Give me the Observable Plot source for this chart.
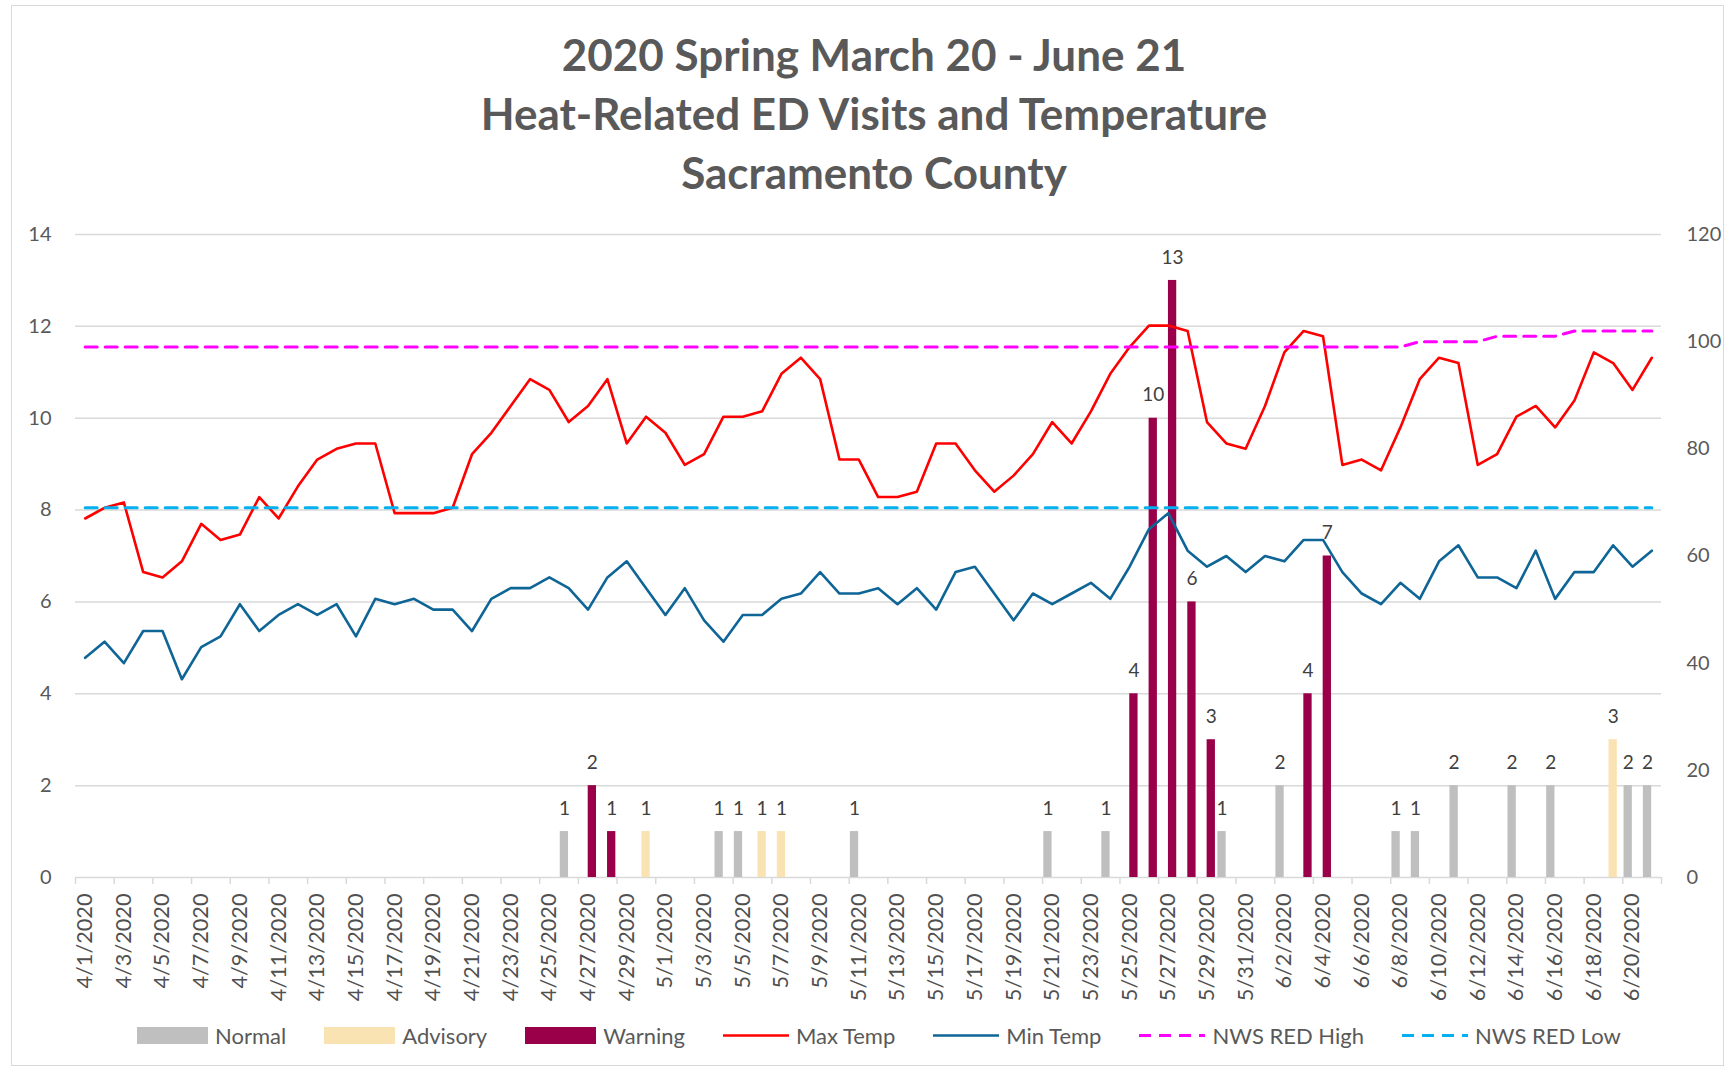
<!DOCTYPE html>
<html><head><meta charset="utf-8">
<script src="https://cdn.jsdelivr.net/npm/d3@7"></script>
<script src="https://cdn.jsdelivr.net/npm/@observablehq/plot@0.6"></script>
<style>
html,body{margin:0;padding:0;background:#fff;}
#wrap{position:relative;width:1736px;height:1070px;overflow:hidden;font-family:Lato,"Open Sans",sans-serif;color:#595959;background:#fff;}
#frame{position:absolute;left:11px;top:5px;width:1713px;height:1061px;border:1.5px solid #d9d9d9;box-sizing:border-box;pointer-events:none;}
#title{height:200px;box-sizing:border-box;padding-top:25px;padding-left:12px;text-align:center;font-weight:700;font-size:44px;line-height:59px;color:#595959;}
#chart{height:800px;}
#legend{display:flex;justify-content:center;align-items:center;height:70px;padding-left:22px;font-size:22px;color:#595959;}
.item{display:flex;align-items:center;margin:0 19px;}
.item svg{margin-right:7px;}
</style></head>
<body>
<div id="wrap">
  <div id="frame"></div>
  <div id="title">2020 Spring March 20 - June 21<br>Heat-Related ED Visits and Temperature<br>Sacramento County</div>
  <div id="chart"></div>
  <div id="legend"></div>
</div>
<script>
// ---- categories ----
const dates = [
  "4/1/2020","4/2/2020","4/3/2020","4/4/2020","4/5/2020","4/6/2020","4/7/2020","4/8/2020","4/9/2020","4/10/2020",
  "4/11/2020","4/12/2020","4/13/2020","4/14/2020","4/15/2020","4/16/2020","4/17/2020","4/18/2020","4/19/2020","4/20/2020",
  "4/21/2020","4/22/2020","4/23/2020","4/24/2020","4/25/2020","4/26/2020","4/27/2020","4/28/2020","4/29/2020","4/30/2020",
  "5/1/2020","5/2/2020","5/3/2020","5/4/2020","5/5/2020","5/6/2020","5/7/2020","5/8/2020","5/9/2020","5/10/2020",
  "5/11/2020","5/12/2020","5/13/2020","5/14/2020","5/15/2020","5/16/2020","5/17/2020","5/18/2020","5/19/2020","5/20/2020",
  "5/21/2020","5/22/2020","5/23/2020","5/24/2020","5/25/2020","5/26/2020","5/27/2020","5/28/2020","5/29/2020","5/30/2020",
  "5/31/2020","6/1/2020","6/2/2020","6/3/2020","6/4/2020","6/5/2020","6/6/2020","6/7/2020","6/8/2020","6/9/2020",
  "6/10/2020","6/11/2020","6/12/2020","6/13/2020","6/14/2020","6/15/2020","6/16/2020","6/17/2020","6/18/2020","6/19/2020",
  "6/20/2020","6/21/2020"
];

// ---- heat-related ED visits (left axis) ----
const normalVisits = [["4/26/2020",1],["5/4/2020",1],["5/5/2020",1],["5/11/2020",1],["5/21/2020",1],["5/24/2020",1],
  ["5/30/2020",1],["6/2/2020",2],["6/8/2020",1],["6/9/2020",1],["6/11/2020",2],["6/14/2020",2],["6/16/2020",2],
  ["6/20/2020",2],["6/21/2020",2]];
const advisoryVisits = [["4/30/2020",1],["5/6/2020",1],["5/7/2020",1],["6/19/2020",3]];
const warningVisits = [["4/27/2020",2],["4/28/2020",1],["5/25/2020",4],["5/26/2020",10],["5/27/2020",13],
  ["5/28/2020",6],["5/29/2020",3],["6/3/2020",4],["6/4/2020",7]];

// ---- temperatures (right axis, °F) ----
const maxTemp = [67,69,70,57,56,59,66,63,64,71,67,73,78,80,81,81,68,68,68,69,79,83,88,93,91,85,88,93,
  81,86,83,77,79,86,86,87,94,97,93,78,78,71,71,72,81,81,76,72,75,79,85,81,87,94,99,103,103,
  102,85,81,80,88,98,102,101,77,78,76,84,93,97,96,77,79,86,88,84,89,98,96,91,97];
const minTemp = [41,44,40,46,46,37,43,45,51,46,49,51,49,51,45,52,51,52,50,50,46,52,54,54,56,54,50,56,
  59,54,49,54,48,44,49,49,52,53,57,53,53,54,51,54,50,57,58,53,48,53,51,53,55,52,58,65,68,
  61,58,60,57,60,59,63,63,57,53,51,55,52,59,62,56,56,54,61,52,57,57,62,58,61];
const nwsRedHigh = [["4/1/2020",99],["6/8/2020",99],["6/9/2020",100],["6/12/2020",100],["6/13/2020",101],
  ["6/16/2020",101],["6/17/2020",102],["6/21/2020",102]];
const nwsRedLow = [["4/1/2020",69],["6/21/2020",69]];

// ---- axis ticks ----
const leftTicks = [0,2,4,6,8,10,12,14];
const rightTicks = [0,20,40,60,80,100,120];

// ---- styling ----
const colors = {Normal:"#BFBFBF", Advisory:"#FAE3B2", Warning:"#990049",
  max:"#FF0000", min:"#0E6596", high:"#FF00FF", low:"#00B0F0"};

const W = 1736, H = 800, mL = 75, mR = 75, mT = 34, mB = 123;
const k = leftTicks[leftTicks.length-1] / rightTicks[rightTicks.length-1];
const bw = (W - mL - mR) / dates.length;
const barW = 8.3, off = 4.3;
const inset = (bw - barW) / 2;

const toRows = (arr) => arr.map(([date, value]) => ({date, value}));
const tempRows = (arr) => dates.map((date, i) => ({date, t: arr[i]}));
const labelDates = dates.filter((d, i) => i % 2 === 0);

const barSeries = [
  {name:"Normal", data: toRows(normalVisits), dx: -off},
  {name:"Advisory", data: toRows(advisoryVisits), dx: 0},
  {name:"Warning", data: toRows(warningVisits), dx: off}
];

const marks = [
  Plot.ruleY(leftTicks, {stroke:"#D9D9D9", strokeWidth:1.5}),
  Plot.axisY(leftTicks, {anchor:"left", tickSize:0, tickPadding:24, fontSize:20, label:null, fill:"#595959"}),
  Plot.axisY(rightTicks.map(t => t * k), {anchor:"right", tickSize:0, tickPadding:25, fontSize:20, label:null,
    tickFormat: d => String(Math.round(d / k)), fill:"#595959"}),
  Plot.axisX(labelDates, {tickSize:0, tickPadding:16, tickRotate:-90, fontSize:21.7, label:null, fill:"#505050"}),
  Plot.axisX(labelDates, {tickSize:7, tickFormat: () => "", dx: -bw/2, stroke:"#D9D9D9", strokeWidth:1.5, label:null}),
  Plot.axisX([dates[dates.length-1]], {tickSize:7, tickFormat: () => "", dx: bw/2, stroke:"#D9D9D9", strokeWidth:1.5, label:null})
];
for (const s of barSeries) {
  marks.push(Plot.barY(s.data, {x:"date", y:"value", fill: colors[s.name], dx: s.dx, insetLeft: inset, insetRight: inset}));
}
marks.push(
  Plot.line(tempRows(maxTemp), {x:"date", y: d => d.t * k, stroke: colors.max, strokeWidth: 2.6}),
  Plot.line(tempRows(minTemp), {x:"date", y: d => d.t * k, stroke: colors.min, strokeWidth: 2.6}),
  Plot.line(toRows(nwsRedHigh), {x:"date", y: d => d.value * k, stroke: colors.high, strokeWidth: 3, strokeDasharray:"12,8"}),
  Plot.line(toRows(nwsRedLow), {x:"date", y: d => d.value * k, stroke: colors.low, strokeWidth: 3, strokeDasharray:"12,8"})
);
for (const s of barSeries) {
  marks.push(Plot.text(s.data, {x:"date", y:"value", text: d => String(d.value), dx: s.dx, dy: -23,
    fontSize: 19, fill:"#404040"}));
}

const chart = Plot.plot({
  width: W, height: H,
  marginLeft: mL, marginRight: mR, marginTop: mT, marginBottom: mB,
  style: {fontFamily: "Lato, 'Open Sans', sans-serif", background: "transparent", color: "#595959", overflow: "visible"},
  x: {type: "band", domain: dates, paddingInner: 0, paddingOuter: 0, round: false, axis: null},
  y: {domain: [0, 14], axis: null},
  marks
});
document.getElementById("chart").appendChild(chart);

// ---- legend ----
const legendItems = [
  {label:"Normal", kind:"bar", color: colors.Normal},
  {label:"Advisory", kind:"bar", color: colors.Advisory},
  {label:"Warning", kind:"bar", color: colors.Warning},
  {label:"Max Temp", kind:"line", color: colors.max},
  {label:"Min Temp", kind:"line", color: colors.min},
  {label:"NWS RED High", kind:"dash", color: colors.high},
  {label:"NWS RED Low", kind:"dash", color: colors.low}
];
const legend = document.getElementById("legend");
for (const it of legendItems) {
  const div = document.createElement("div");
  div.className = "item";
  const w = it.kind === "bar" ? 71 : 66;
  let sw;
  if (it.kind === "bar") sw = `<rect x="0" y="2" width="${w}" height="17" fill="${it.color}"/>`;
  else if (it.kind === "line") sw = `<line x1="0" x2="${w}" y1="10.5" y2="10.5" stroke="${it.color}" stroke-width="2.6"/>`;
  else sw = `<line x1="0" x2="${w}" y1="10.5" y2="10.5" stroke="${it.color}" stroke-width="3" stroke-dasharray="12,8"/>`;
  div.innerHTML = `<svg width="${w}" height="21">${sw}</svg><span>${it.label}</span>`;
  legend.appendChild(div);
}
</script>
</body></html>
